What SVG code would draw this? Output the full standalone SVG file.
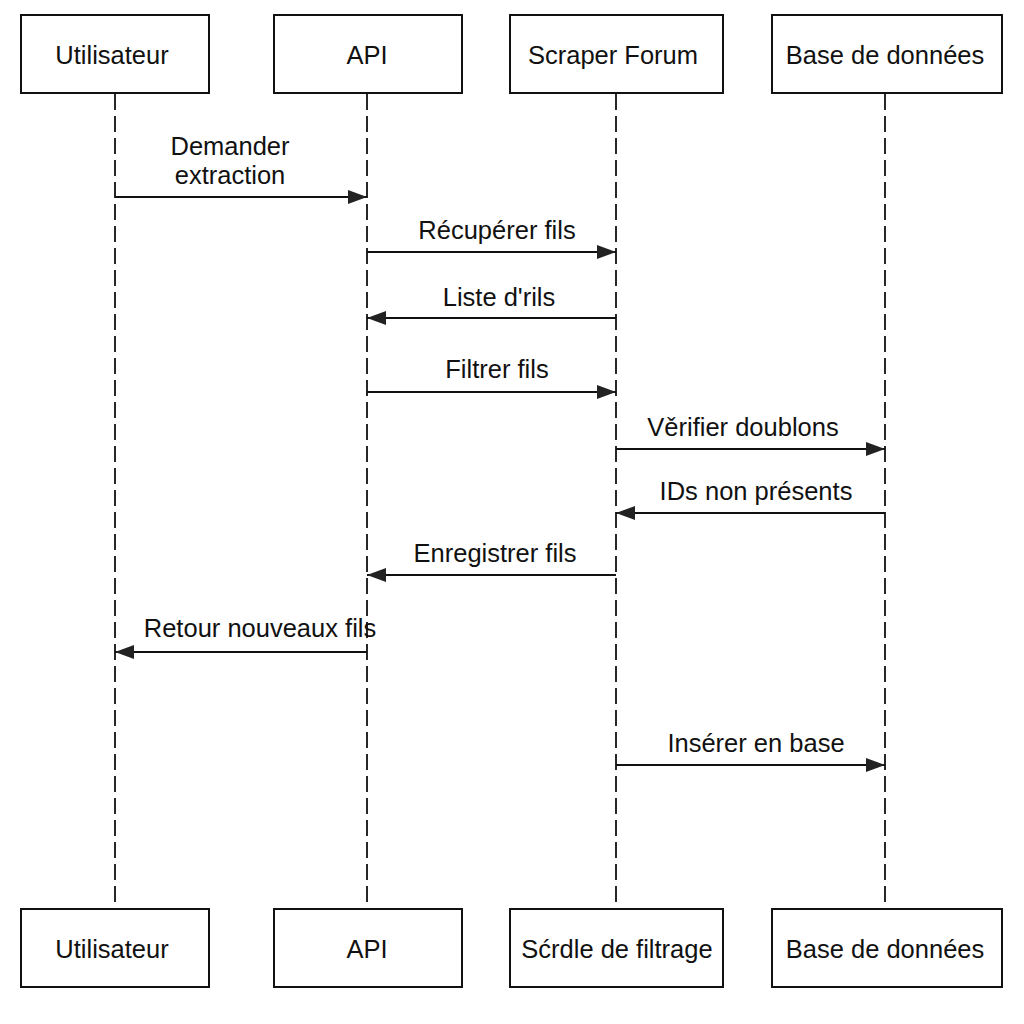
<svg xmlns="http://www.w3.org/2000/svg" width="1024" height="1024" viewBox="0 0 1024 1024">
<style>
.box{fill:#fff;stroke:#111;stroke-width:2}
.life{stroke:#111;stroke-width:1.8;stroke-dasharray:16 6;fill:none}
.msg{stroke:#111;stroke-width:2;fill:none;marker-end:url(#ah)}
text{font-family:"Liberation Sans",Arial,sans-serif;font-size:25.5px;fill:#111;text-anchor:middle}
</style>
<defs>
<marker id="ah" viewBox="0 0 19 14" refX="19" refY="7" markerWidth="19" markerHeight="14" markerUnits="userSpaceOnUse" orient="auto">
<path d="M0,0 L19,7 L0,14 Z" fill="#222"/>
</marker>
</defs>
<rect width="1024" height="1024" fill="#fff"/>
<g id="lifelines">
<line class="life" x1="115" y1="94" x2="115" y2="909"/>
<line class="life" x1="367" y1="94" x2="367" y2="909"/>
<line class="life" x1="616" y1="94" x2="616" y2="909"/>
<line class="life" x1="885" y1="94" x2="885" y2="909"/>
</g>
<g id="n-user-top"><rect class="box" x="21" y="15" width="188" height="78"/><text x="112" y="64">Utilisateur</text></g>
<g id="n-api-top"><rect class="box" x="274" y="15" width="188" height="78"/><text x="367" y="64">API</text></g>
<g id="n-scraper-top"><rect class="box" x="510" y="15" width="213" height="78"/><text x="613" y="64">Scraper Forum</text></g>
<g id="n-db-top"><rect class="box" x="772" y="15" width="230" height="78"/><text x="885" y="64">Base de données</text></g>
<g id="n-user-bot"><rect class="box" x="21" y="909" width="188" height="78"/><text x="112" y="958">Utilisateur</text></g>
<g id="n-api-bot"><rect class="box" x="274" y="909" width="188" height="78"/><text x="367" y="958">API</text></g>
<g id="n-filter-bot"><rect class="box" x="510" y="909" width="213" height="78"/><text x="617" y="958">Sćrdle de filtrage</text></g>
<g id="n-db-bot"><rect class="box" x="772" y="909" width="230" height="78"/><text x="885" y="958">Base de données</text></g>
<g id="connectors">
<line class="msg" x1="115" y1="197" x2="367" y2="197"/>
<text x="230" y="155">Demander</text><text x="230" y="184">extraction</text>
<line class="msg" x1="367" y1="252" x2="616" y2="252"/>
<text x="497" y="239">Récupérer fils</text>
<line class="msg" x1="616" y1="318" x2="367" y2="318"/>
<text x="499" y="306">Liste d'rils</text>
<line class="msg" x1="367" y1="392" x2="616" y2="392"/>
<text x="497" y="378">Filtrer fils</text>
<line class="msg" x1="616" y1="449" x2="885" y2="449"/>
<text x="743" y="436">Věrifier doublons</text>
<line class="msg" x1="885" y1="513" x2="616" y2="513"/>
<text x="756" y="500">IDs non présents</text>
<line class="msg" x1="616" y1="575" x2="367" y2="575"/>
<text x="495" y="562">Enregistrer fils</text>
<line class="msg" x1="367" y1="652" x2="115" y2="652"/>
<text x="260" y="637">Retour nouveaux fils</text>
<line class="msg" x1="616" y1="765" x2="885" y2="765"/>
<text x="756" y="752">Insérer en base</text>
</g>
</svg>
